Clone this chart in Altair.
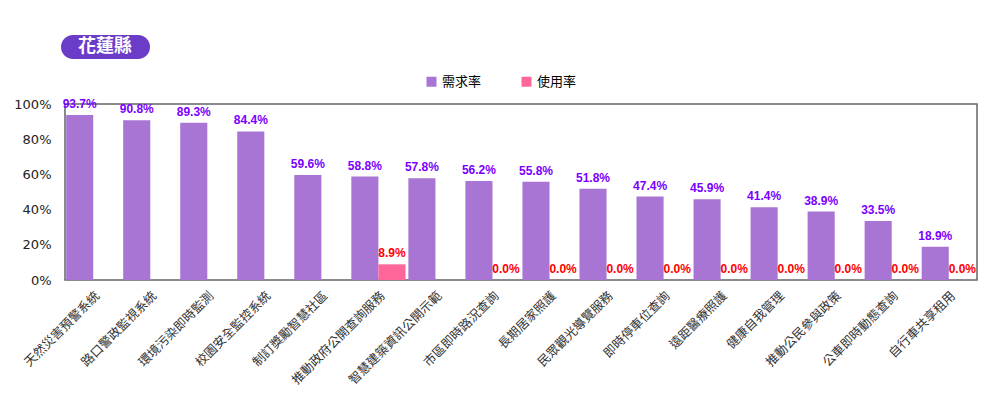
import altair as alt
import pandas as pd

categories = ["天然災害預警系統", "路口警政監視系統", "環境污染即時監測", "校園安全監控系統",
              "制訂獎勵智慧社區", "推動政府公開查詢服務", "智慧建築資訊公開示範", "市區即時路況查詢",
              "長期居家照護", "民眾觀光導覽服務", "即時停車位查詢", "遠距醫療照護",
              "健康自我管理", "推動公民參與政策", "公車即時動態查詢", "自行車共享租用"]
demand = [93.7, 90.8, 89.3, 84.4, 59.6, 58.8, 57.8, 56.2, 55.8, 51.8, 47.4, 45.9, 41.4, 38.9, 33.5, 18.9]
usage = [None, None, None, None, None, 8.9, None, 0.0, 0.0, 0.0, 0.0, 0.0, 0.0, 0.0, 0.0, 0.0]
series = ["需求率", "使用率"]
title_text = "花蓮縣"

rows = []
for c, d, u in zip(categories, demand, usage):
    rows.append({"cat": c, "series": series[0], "value": d})
    if u is not None:
        rows.append({"cat": c, "series": series[1], "value": u})
df = pd.DataFrame(rows)
df["label"] = df["value"].map(lambda v: f"{v:.1f}%")

x = alt.X("cat:N", sort=categories, title=None,
          scale=alt.Scale(paddingInner=0.05, paddingOuter=0.02),
          axis=alt.Axis(labelAngle=-45, labelFont="Noto Sans CJK TC", labelFontSize=12.5,
                        labelColor="#333", ticks=False, domain=False, labelPadding=9))
xo = alt.XOffset("series:N", sort=series, scale=alt.Scale(paddingInner=0, paddingOuter=0))
y = alt.Y("value:Q", title=None, scale=alt.Scale(domain=[0, 100]),
          axis=alt.Axis(values=[0, 20, 40, 60, 80, 100], labelExpr="datum.value + '%'",
                        grid=False, ticks=False, domain=False, labelFont="DejaVu Sans",
                        labelFontSize=13, labelColor="#222", labelPadding=14))

base = alt.Chart(df)
bars = base.mark_bar().encode(
    x=x, xOffset=xo, y=y,
    color=alt.Color("series:N", sort=series,
                    scale=alt.Scale(domain=series, range=["#a875d4", "#ff6699"]),
                    legend=alt.Legend(title=None, orient="none", legendX=360, legendY=-29,
                                      direction="horizontal", symbolType="square",
                                      symbolSize=100, labelFontSize=13,
                                      labelFont="Noto Sans CJK TC", columnPadding=38,
                                      symbolStrokeWidth=0)),
)
labels = base.mark_text(baseline="bottom", dy=-4, fontWeight="bold", fontSize=12,
                        font="Liberation Sans").encode(
    x=x, xOffset=xo, y=y, text="label:N",
    color=alt.Color("series:N", sort=series,
                    scale=alt.Scale(domain=series, range=["#7a00ff", "#ff0000"]), legend=None),
)

badge_df = pd.DataFrame({"t": [title_text]})
badge = alt.Chart(badge_df).mark_rect(cornerRadius=12, color="#6a3cc8").encode(
    x=alt.value(-4), x2=alt.value(85), y=alt.value(-69), y2=alt.value(-45))
badge_text = alt.Chart(badge_df).mark_text(color="white", fontSize=18, fontWeight="bold",
                                           font="Noto Sans CJK TC").encode(
    x=alt.value(40), y=alt.value(-57), text="t:N")

chart = alt.layer(bars, labels, badge, badge_text).resolve_scale(color="independent").properties(
    width=912, height=176,
    autosize=alt.AutoSizeParams(type="none"),
    padding={"left": 57, "top": 96, "right": 5, "bottom": 109},
).configure_view(stroke="#666", strokeWidth=1.5)

chart.save("out.html", embed_options={"renderer": "svg", "actions": False})
